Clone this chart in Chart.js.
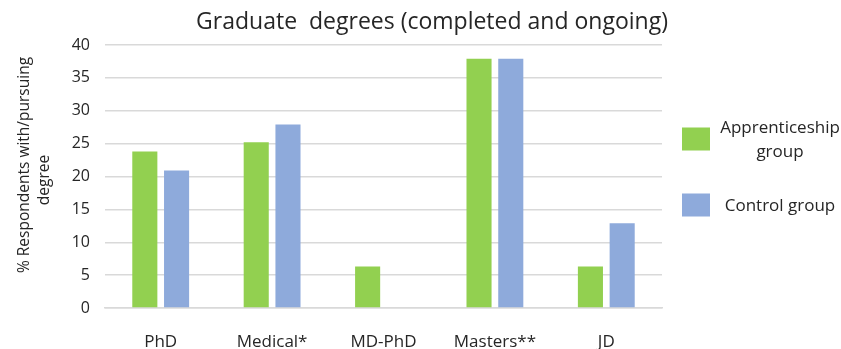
<!DOCTYPE html>
<html>
<head>
<meta charset="utf-8">
<script src="https://cdn.jsdelivr.net/npm/chart.js@4/dist/chart.umd.min.js"></script>
<style>
  html, body { margin: 0; padding: 0; background: #ffffff; }
</style>
</head>
<body>
<canvas id="chart" width="841" height="349"></canvas>
<script>
// Degree categories and the share of respondents (%) in each group
const categories = ['PhD', 'Medical*', 'MD-PhD', 'Masters**', 'JD'];
const apprenticeshipGroup = [23.8, 25.2, 6.3, 37.9, 6.3];
const controlGroup = [20.9, 27.9, 0, 37.9, 12.9];

// Axis ticks and texts
const yTicks = [0, 5, 10, 15, 20, 25, 30, 35, 40];
const yTitle = ['% Respondents with/pursuing', 'degree'];
const chartTitle = 'Graduate  degrees (completed and ongoing)';
const legendLines = [['Apprenticeship', 'group'], ['Control group']];

const GREEN = '#92d050';
const BLUE = '#8eaadb';
const GRID = '#d9d9d9';
const TEXT = '#262626';
const FONT = '"Open Sans", Lato, sans-serif';

// Chart title, rotated value-axis title and a two-entry legend on the right
const decorations = {
  id: 'decorations',
  afterDraw(chart) {
    const { ctx, chartArea } = chart;
    ctx.save();
    ctx.fillStyle = TEXT;
    ctx.textAlign = 'center';
    ctx.textBaseline = 'middle';
    ctx.font = '23px ' + FONT;
    ctx.fillText(chartTitle, 432, 22);

    // value-axis title, two lines read bottom-to-top
    ctx.font = '15.5px ' + FONT;
    [[yTitle[0], 25, 165], [yTitle[1], 45, 180]].forEach(([t, x, y]) => {
      ctx.save();
      ctx.translate(x, y);
      ctx.rotate(-Math.PI / 2);
      ctx.fillText(t, 0, 0);
      ctx.restore();
    });

    const boxX = chartArea.right + 20;
    const entries = [
      { color: chart.data.datasets[0].backgroundColor, lines: legendLines[0], cy: 139 },
      { color: chart.data.datasets[1].backgroundColor, lines: legendLines[1], cy: 205 }
    ];
    ctx.font = '17px ' + FONT;
    entries.forEach(e => {
      ctx.fillStyle = e.color;
      ctx.fillRect(boxX, e.cy - 11.5, 28, 23);
      ctx.fillStyle = TEXT;
      const lh = 24;
      const top = e.cy - (e.lines.length - 1) * lh / 2;
      e.lines.forEach((t, i) => ctx.fillText(t, 780, top + i * lh + 1));
    });
    ctx.restore();
  }
};

new Chart(document.getElementById('chart'), {
  type: 'bar',
  data: {
    labels: categories,
    datasets: [
      { label: 'Apprenticeship group', data: apprenticeshipGroup, backgroundColor: GREEN,
        categoryPercentage: 0.57, barPercentage: 0.79 },
      { label: 'Control group', data: controlGroup, backgroundColor: BLUE,
        categoryPercentage: 0.57, barPercentage: 0.79 }
    ]
  },
  options: {
    responsive: false,
    animation: false,
    layout: { padding: { top: 45, right: 179, bottom: 0, left: 0 } },
    plugins: {
      legend: { display: false },
      title: { display: false },
      tooltip: { enabled: false }
    },
    scales: {
      x: {
        afterFit(axis) { axis.height = 41; },
        grid: { display: false, drawTicks: false },
        border: { display: true, color: GRID, width: 1.5 },
        ticks: { color: TEXT, font: { family: FONT, size: 17 }, padding: 24, maxRotation: 0 }
      },
      y: {
        min: 0,
        max: 40,
        afterBuildTicks(axis) { axis.ticks = yTicks.map(v => ({ value: v })); },
        afterFit(axis) { axis.width = 105; },
        grid: { color: GRID, lineWidth: 1.5, drawTicks: false },
        border: { display: false },
        ticks: { color: TEXT, font: { family: FONT, size: 16 }, padding: 15 }
      }
    }
  },
  plugins: [decorations]
});
</script>
</body>
</html>
